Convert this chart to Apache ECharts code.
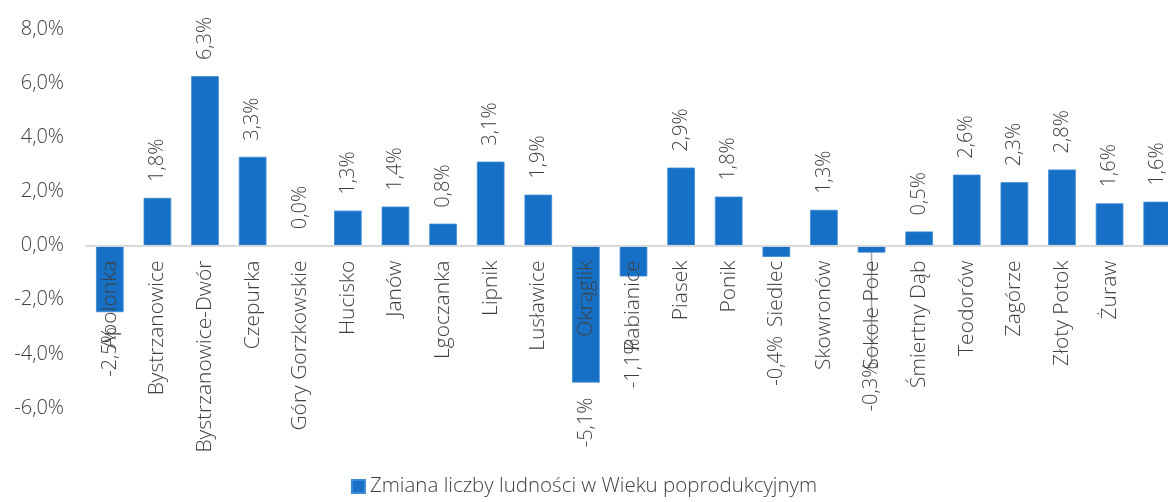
<!DOCTYPE html>
<html>
<head>
<meta charset="utf-8">
<script src="https://cdn.jsdelivr.net/npm/echarts@6/dist/echarts.min.js"></script>
<style>
  html, body { margin: 0; padding: 0; background: #fff; }
  #chart { width: 1168px; height: 502px; }
</style>
</head>
<body>
<div id="chart"></div>
<script>
const categories = [
  "Apolonka", "Bystrzanowice", "Bystrzanowice-Dwór", "Czepurka", "Góry Gorzkowskie",
  "Hucisko", "Janów", "Lgoczanka", "Lipnik", "Lusławice", "Okrąglik", "Pabianice",
  "Piasek", "Ponik", "Siedlec", "Skowronów", "Sokole Pole", "Śmiertny Dąb",
  "Teodorów", "Zagórze", "Złoty Potok", "Żuraw", ""
];
const values = [
  -2.46, 1.76, 6.26, 3.28, 0.0,
  1.29, 1.44, 0.81, 3.1, 1.88, -5.06, -1.14,
  2.88, 1.81, -0.42, 1.32, -0.26, 0.52,
  2.62, 2.34, 2.81, 1.56, 1.62
];
const yTicks = [-6, -4, -2, 0, 2, 4, 6, 8];
const seriesName = "Zmiana liczby ludności w Wieku poprodukcyjnym";

const textColor = "#404040";
const barColor = "#1570C6";
const font = "'Open Sans', 'Noto Sans', sans-serif";
const weight = 300;

// value labels that were dragged further down in the original (px)
const labelDrop = { "Pabianice": 47, "Siedlec": 64, "Sokole Pole": 94 };
const leaderLine = ["Sokole Pole"];

const gridTop = 29;
const gridBottom = 94;
const plotHeight = 502 - gridTop - gridBottom;
// distance from the bottom of the plot to the zero line
const zeroOffset = plotHeight * (0 - yTicks[0]) / (yTicks[yTicks.length - 1] - yTicks[0]);

const fmt = (v) => v.toFixed(1).replace(".", ",") + "%";

const chart = echarts.init(document.getElementById("chart"));

const barData = values.map((v, i) => {
  const item = {
    value: v,
    label: v < 0
      ? { position: "bottom", align: "right", distance: 15 }
      : { position: "top", align: "left", distance: 16 }
  };
  if (leaderLine.includes(categories[i])) {
    item.labelLine = { show: true, lineStyle: { color: "#a6a6a6", width: 1.5 } };
  }
  return item;
});

const option = {
  animation: false,
  grid: { left: 86, right: -13, top: gridTop, bottom: gridBottom, containLabel: false, outerBoundsMode: "none" },
  legend: {
    bottom: 0,
    left: "center",
    itemWidth: 13,
    itemHeight: 13,
    itemGap: 4,
    icon: "rect",
    textStyle: { color: textColor, fontSize: 20.5, fontFamily: font, fontWeight: weight },
    data: [seriesName]
  },
  xAxis: {
    type: "category",
    data: categories,
    z: 5,
    offset: -zeroOffset,
    axisLine: { onZero: false, lineStyle: { color: "#d9d9d9", width: 2 } },
    axisTick: { show: false },
    axisLabel: {
      rotate: 90,
      interval: 0,
      margin: 15,
      color: textColor,
      fontSize: 21,
      fontFamily: font,
      fontWeight: weight
    }
  },
  yAxis: {
    type: "value",
    min: yTicks[0],
    max: yTicks[yTicks.length - 1],
    interval: 2,
    splitLine: { show: false },
    axisLine: { show: false },
    axisTick: { show: false },
    axisLabel: {
      margin: 22,
      color: textColor,
      fontSize: 20,
      fontFamily: font,
      fontWeight: weight,
      formatter: (v) => fmt(v)
    }
  },
  series: [
    {
      name: seriesName,
      type: "bar",
      barWidth: "58%",
      itemStyle: { color: barColor, borderColor: "#3d8ad6", borderWidth: 0.8 },
      label: {
        show: true,
        rotate: 90,
        verticalAlign: "middle",
        color: textColor,
        fontSize: 20,
        fontFamily: font,
        fontWeight: weight,
        formatter: (p) => fmt(p.value)
      },
      // labels are rotated 90deg, so a move down the screen is a negative dx
      labelLayout: (p) => ({ dx: -(labelDrop[categories[p.dataIndex]] || 0) }),
      data: barData
    }
  ]
};

chart.setOption(option);
</script>
</body>
</html>
